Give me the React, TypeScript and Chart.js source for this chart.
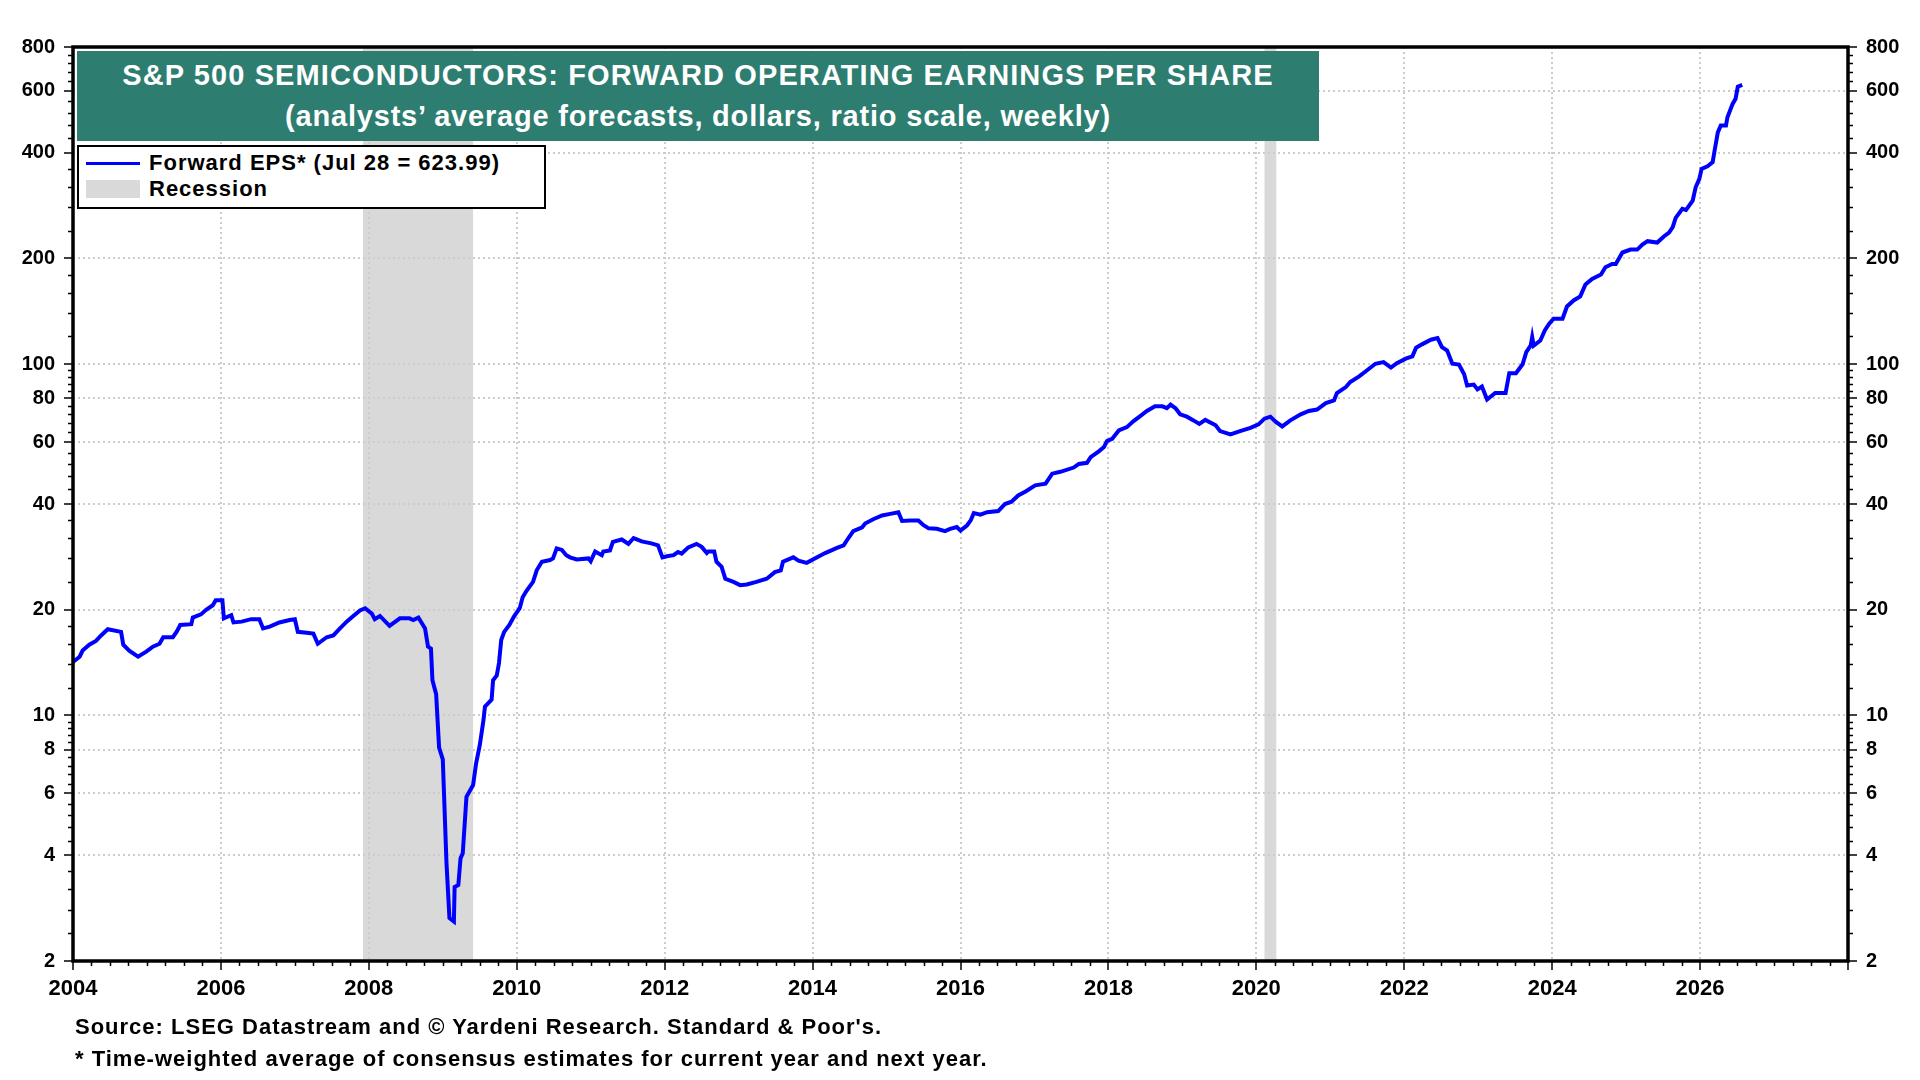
import React, { useEffect, useRef } from 'react';
import Chart from 'chart.js/auto';

const FONT = '"Liberation Sans", Arial, sans-serif';

// decimal year -> forward EPS
const years = [
  2004.00, 2004.09, 2004.13, 2004.22, 2004.31, 2004.38, 2004.47, 2004.65, 2004.68, 2004.76, 2004.88, 2004.99,
  2005.08, 2005.17, 2005.22, 2005.35, 2005.40, 2005.45, 2005.60, 2005.62, 2005.73, 2005.80, 2005.89, 2005.93,
  2006.02, 2006.04, 2006.14, 2006.17, 2006.28, 2006.41, 2006.52, 2006.57, 2006.66, 2006.79, 2006.93,
  2007.00, 2007.04, 2007.16, 2007.25, 2007.31, 2007.43, 2007.52, 2007.61, 2007.70, 2007.79, 2007.88, 2007.95,
  2008.04, 2008.08, 2008.15, 2008.28, 2008.42, 2008.55, 2008.60, 2008.67, 2008.76, 2008.80, 2008.84, 2008.86,
  2008.91, 2008.95, 2009.00, 2009.05, 2009.09, 2009.15, 2009.16, 2009.21, 2009.24, 2009.27, 2009.32, 2009.41,
  2009.45, 2009.50, 2009.55, 2009.57, 2009.66, 2009.68, 2009.73, 2009.76, 2009.79, 2009.83, 2009.90, 2009.96,
  2010.04, 2010.08, 2010.13, 2010.22, 2010.27, 2010.34, 2010.45, 2010.49, 2010.54, 2010.61, 2010.67, 2010.72,
  2010.81, 2010.97, 2011.00, 2011.06, 2011.15, 2011.17, 2011.26, 2011.30, 2011.42, 2011.51, 2011.58, 2011.69,
  2011.82, 2011.91, 2011.97, 2012.03, 2012.12, 2012.18, 2012.23, 2012.32, 2012.43, 2012.50, 2012.57, 2012.59,
  2012.67, 2012.70, 2012.77, 2012.82, 2012.93, 2013.02, 2013.11, 2013.24, 2013.38, 2013.49, 2013.57, 2013.60,
  2013.74, 2013.81, 2013.92, 2014.03, 2014.17, 2014.33, 2014.42, 2014.48, 2014.55, 2014.67, 2014.71, 2014.82,
  2014.94, 2015.05, 2015.16, 2015.21, 2015.32, 2015.43, 2015.50, 2015.57, 2015.68, 2015.79, 2015.86, 2015.95,
  2016.00, 2016.09, 2016.14, 2016.18, 2016.27, 2016.36, 2016.51, 2016.60, 2016.69, 2016.78, 2016.88,
  2017.01, 2017.15, 2017.24, 2017.35, 2017.53, 2017.60, 2017.71, 2017.76, 2017.87, 2017.94, 2017.98,
  2018.05, 2018.14, 2018.25, 2018.34, 2018.43, 2018.52, 2018.63, 2018.73, 2018.79, 2018.84, 2018.91, 2018.97,
  2019.06, 2019.15, 2019.23, 2019.31, 2019.45, 2019.51, 2019.65, 2019.78, 2019.92,
  2020.03, 2020.11, 2020.19, 2020.26, 2020.35, 2020.46, 2020.60, 2020.71, 2020.82, 2020.94,
  2021.05, 2021.09, 2021.21, 2021.27, 2021.39, 2021.48, 2021.61, 2021.72, 2021.82, 2021.90,
  2022.02, 2022.11, 2022.16, 2022.24, 2022.36, 2022.45, 2022.51, 2022.58, 2022.65, 2022.74, 2022.81, 2022.85,
  2022.94, 2022.99, 2023.05, 2023.12, 2023.23, 2023.37, 2023.42, 2023.51, 2023.60, 2023.65, 2023.71, 2023.73,
  2023.75, 2023.84, 2023.90, 2023.96, 2024.02, 2024.14, 2024.20, 2024.29, 2024.38, 2024.45, 2024.54, 2024.66,
  2024.72, 2024.81, 2024.86, 2024.95, 2025.06, 2025.15, 2025.22, 2025.29, 2025.42, 2025.51, 2025.58, 2025.63,
  2025.67, 2025.76, 2025.81, 2025.90, 2025.94, 2025.99, 2026.02, 2026.10, 2026.17, 2026.20, 2026.24, 2026.28,
  2026.35, 2026.37, 2026.44, 2026.48, 2026.51, 2026.57,
];

const forwardEps = [
  14.2, 14.7, 15.3, 15.9, 16.3, 16.9, 17.6, 17.3, 15.9, 15.3, 14.7, 15.2,
  15.7, 16.0, 16.7, 16.7, 17.3, 18.1, 18.2, 19.0, 19.4, 20.0, 20.6, 21.3,
  21.3, 18.9, 19.3, 18.4, 18.5, 18.8, 18.8, 17.7, 17.9, 18.4, 18.7,
  18.8, 17.3, 17.2, 17.1, 16.0, 16.7, 16.9, 17.7, 18.5, 19.2, 19.9, 20.2,
  19.5, 18.8, 19.2, 18.0, 18.9, 18.9, 18.7, 19.0, 17.7, 15.7, 15.5, 12.6,
  11.5, 8.1, 7.5, 3.8, 2.65, 2.59, 3.25, 3.29, 3.92, 4.05, 5.87, 6.34,
  7.3, 8.23, 9.7, 10.6, 11.1, 12.6, 13.0, 14.1, 16.4, 17.3, 18.1, 19.1,
  20.2, 21.7, 22.6, 24.0, 25.9, 27.4, 27.7, 28.0, 29.9, 29.6, 28.6, 28.2,
  27.8, 28.0, 27.5, 29.3, 28.6, 29.3, 29.5, 31.2, 31.7, 30.8, 32.0, 31.3,
  30.9, 30.5, 28.2, 28.4, 28.6, 29.2, 28.9, 30.1, 30.8, 30.2, 29.0, 29.3,
  29.3, 27.4, 26.5, 24.5, 24.0, 23.5, 23.6, 24.0, 24.5, 25.6, 25.9, 27.4,
  28.2, 27.6, 27.2, 28.0, 29.0, 30.0, 30.5, 31.9, 33.5, 34.3, 35.2, 36.2,
  37.1, 37.5, 37.9, 35.8, 35.9, 35.9, 34.8, 34.1, 34.0, 33.5, 34.0, 34.4,
  33.6, 34.8, 36.0, 37.7, 37.3, 37.9, 38.2, 40.0, 40.6, 42.3, 43.4,
  45.2, 45.7, 48.8, 49.4, 50.8, 52.0, 52.4, 54.4, 56.5, 58.1, 60.4,
  61.3, 64.8, 66.2, 68.9, 71.2, 73.6, 75.9, 75.9, 75.0, 76.7, 74.8, 72.0,
  70.9, 69.2, 67.6, 69.4, 67.0, 64.5, 63.1, 64.5, 65.9,
  67.4, 70.0, 70.9, 68.6, 66.5, 69.2, 72.0, 73.6, 74.3, 77.5,
  78.9, 82.8, 86.1, 89.0, 92.3, 95.5, 100.3, 101.4, 97.8, 100.7,
  103.7, 105.3, 111.4, 113.9, 117.4, 118.7, 111.9, 109.4, 100.3, 99.8, 93.6, 87.0,
  87.5, 84.8, 86.4, 79.3, 82.8, 82.8, 94.3, 94.3, 100.0, 108.3, 113.1, 119.5,
  113.0, 116.8, 124.8, 130.5, 134.8, 134.8, 146.0, 151.9, 156.0, 168.7, 175.0, 180.1,
  188.9, 193.0, 193.0, 208.0, 212.0, 212.0, 219.0, 224.0, 222.0, 231.0, 237.0, 245.6,
  261.0, 277.0, 275.0, 292.0, 319.0, 337.0, 360.0, 366.0, 376.0, 410.0, 457.0, 478.0,
  478.0, 505.0, 551.0, 570.0, 617.0, 623.99,
];

const recessionStarts = [2007.92, 2020.11];
const recessionEnds = [2009.41, 2020.27];

const yearTicks = [2004, 2006, 2008, 2010, 2012, 2014, 2016, 2018, 2020, 2022, 2024, 2026, 2028];
const yTicks = [2, 4, 6, 8, 10, 20, 40, 60, 80, 100, 200, 400, 600, 800];
const yMinorTicks = [
  2.4, 2.8, 3.2, 3.6, 4.4, 4.8, 5.2, 5.6, 6.4, 6.8, 7.2, 7.6, 8.4, 8.8, 9.2, 9.6,
  12, 14, 16, 18, 24, 28, 32, 36, 44, 48, 52, 56, 64, 68, 72, 76, 84, 88, 92, 96,
  120, 140, 160, 180, 240, 280, 320, 360, 440, 480, 520, 560, 640, 680, 720, 760,
];

const titleLines = [
  'S&P 500 SEMICONDUCTORS: FORWARD OPERATING EARNINGS PER SHARE',
  '(analysts’ average forecasts, dollars, ratio scale, weekly)',
];
const seriesLabel = 'Forward EPS* (Jul 28 = 623.99)';
const recessionLabel = 'Recession';
const notes = [
  "Source: LSEG Datastream and © Yardeni Research. Standard & Poor's.",
  '* Time-weighted average of consensus estimates for current year and next year.',
];

const decorPlugin = {
  id: 'decor',
  beforeDraw(chart: any) {
    const { ctx, chartArea } = chart;
    const x = chart.scales.x;
    ctx.save();
    ctx.fillStyle = '#d9d9d9';
    recessionStarts.forEach((s, i) => {
      const x0 = x.getPixelForValue(s);
      const x1 = x.getPixelForValue(recessionEnds[i]);
      ctx.fillRect(x0, chartArea.top, x1 - x0, chartArea.bottom - chartArea.top);
    });
    ctx.restore();
  },
  afterDraw(chart: any) {
    const { ctx, chartArea } = chart;
    const { x, y } = chart.scales;
    ctx.save();
    ctx.strokeStyle = '#000';
    ctx.lineWidth = 1.5;
    ctx.beginPath();
    yMinorTicks.forEach((v) => {
      const py = Math.round(y.getPixelForValue(v)) + 0.5;
      ctx.moveTo(chartArea.left - 5, py);
      ctx.lineTo(chartArea.left, py);
      ctx.moveTo(chartArea.right, py);
      ctx.lineTo(chartArea.right + 5, py);
    });
    for (let q = 2004; q < 2028; q += 0.25) {
      if (q % 2 === 0) continue;
      const px = Math.round(x.getPixelForValue(q)) + 0.5;
      ctx.moveTo(px, chartArea.bottom);
      ctx.lineTo(px, chartArea.bottom + 5);
    }
    ctx.stroke();
    ctx.lineWidth = 3.5;
    ctx.strokeRect(chartArea.left, chartArea.top, chartArea.right - chartArea.left, chartArea.bottom - chartArea.top);
    ctx.restore();
  },
};

const gridColor = (c: any) =>
  c.tick && (c.tick.value === 2 || c.tick.value === 800 || c.tick.value === 2004 || c.tick.value === 2028)
    ? 'rgba(0,0,0,0)'
    : '#cccccc';

const EpsChart: React.FC = () => {
  const chartRef = useRef<HTMLCanvasElement>(null);

  useEffect(() => {
    if (!chartRef.current) return;
    const logAxis = (position: 'left' | 'right', onArea: boolean) => ({
      type: 'logarithmic' as const,
      position,
      min: 2,
      max: 800,
      afterBuildTicks: (scale: any) => {
        scale.ticks = yTicks.map((v) => ({ value: v }));
      },
      afterFit: (scale: any) => {
        scale.width = position === 'left' ? 73 : 72;
      },
      grid: {
        drawOnChartArea: onArea,
        color: gridColor,
        lineWidth: 2,
        tickLength: 9,
        tickColor: '#000',
        tickWidth: 1.5,
      },
      border: { display: false, dash: [2, 3] },
      ticks: {
        autoSkip: false,
        color: '#000',
        padding: 9,
        font: { family: FONT, size: 20, weight: 'bold' as const },
        callback: (v: any) => String(v),
      },
    });

    const chartInstance = new Chart(chartRef.current, {
      type: 'line',
      data: {
        datasets: [
          {
            label: seriesLabel,
            data: years.map((yr, i) => ({ x: yr, y: forwardEps[i] })),
            borderColor: '#0000ff',
            borderWidth: 4,
            pointRadius: 0,
            tension: 0,
            yAxisID: 'y',
          },
        ],
      },
      options: {
        responsive: false,
        animation: false,
        layout: { padding: { top: 47, left: 0, right: 0, bottom: 0 } },
        plugins: { legend: { display: false }, tooltip: { enabled: false } },
        scales: {
          x: {
            type: 'linear',
            min: 2004,
            max: 2028,
            afterBuildTicks: (scale: any) => {
              scale.ticks = yearTicks.map((v) => ({ value: v }));
            },
            afterFit: (scale: any) => {
              scale.height = 119;
            },
            grid: {
              color: gridColor,
              lineWidth: 2,
              tickLength: 9,
              tickColor: '#000',
              tickWidth: 1.5,
            },
            border: { display: false, dash: [2, 3] },
            ticks: {
              autoSkip: false,
              maxRotation: 0,
              color: '#000',
              padding: 6,
              font: { family: FONT, size: 22, weight: 'bold' },
              callback: (v: any) => (v <= 2026 ? String(v) : ''),
            },
          },
          y: logAxis('left', true),
          y2: logAxis('right', false),
        },
      },
      plugins: [decorPlugin],
    });

    return () => {
      chartInstance.destroy();
    };
  }, []);

  return <canvas ref={chartRef} width={1920} height={1080} style={{ display: 'block' }} />;
};

const App: React.FC = () => {
  return (
    <div style={{ position: 'absolute', left: 0, top: 0, width: 1920, height: 1080, background: '#fff', fontFamily: FONT, fontWeight: 'bold' }}>
      <EpsChart />
      <div
        style={{
          position: 'absolute', left: 77, top: 51, width: 1242, height: 90, background: '#2e7d71', color: '#fff',
          fontSize: 29, lineHeight: '41px', textAlign: 'center', display: 'flex', flexDirection: 'column', justifyContent: 'center',
          whiteSpace: 'nowrap',
        }}
      >
        <div style={{ letterSpacing: '1.1px' }}>{titleLines[0]}</div>
        <div style={{ letterSpacing: '0.8px' }}>{titleLines[1]}</div>
      </div>
      <div
        style={{
          position: 'absolute', left: 77, top: 145, width: 465, height: 60, background: '#fff', border: '2px solid #000',
          fontSize: 22, color: '#000', letterSpacing: '1px', whiteSpace: 'nowrap',
        }}
      >
        <div style={{ position: 'absolute', left: 7, top: 15, width: 54, height: 3, background: '#0000ff' }} />
        <div style={{ position: 'absolute', left: 70, top: 3, lineHeight: '26px' }}>{seriesLabel}</div>
        <div style={{ position: 'absolute', left: 7, top: 33, width: 54, height: 18, background: '#d9d9d9' }} />
        <div style={{ position: 'absolute', left: 70, top: 29, lineHeight: '26px' }}>{recessionLabel}</div>
      </div>
      <div style={{ position: 'absolute', left: 75, top: 1014, fontSize: 22, lineHeight: '26px', color: '#000', letterSpacing: '1px', whiteSpace: 'nowrap' }}>{notes[0]}</div>
      <div style={{ position: 'absolute', left: 75, top: 1046, fontSize: 22, lineHeight: '26px', color: '#000', letterSpacing: '1px', whiteSpace: 'nowrap' }}>{notes[1]}</div>
    </div>
  );
};

export default App;
